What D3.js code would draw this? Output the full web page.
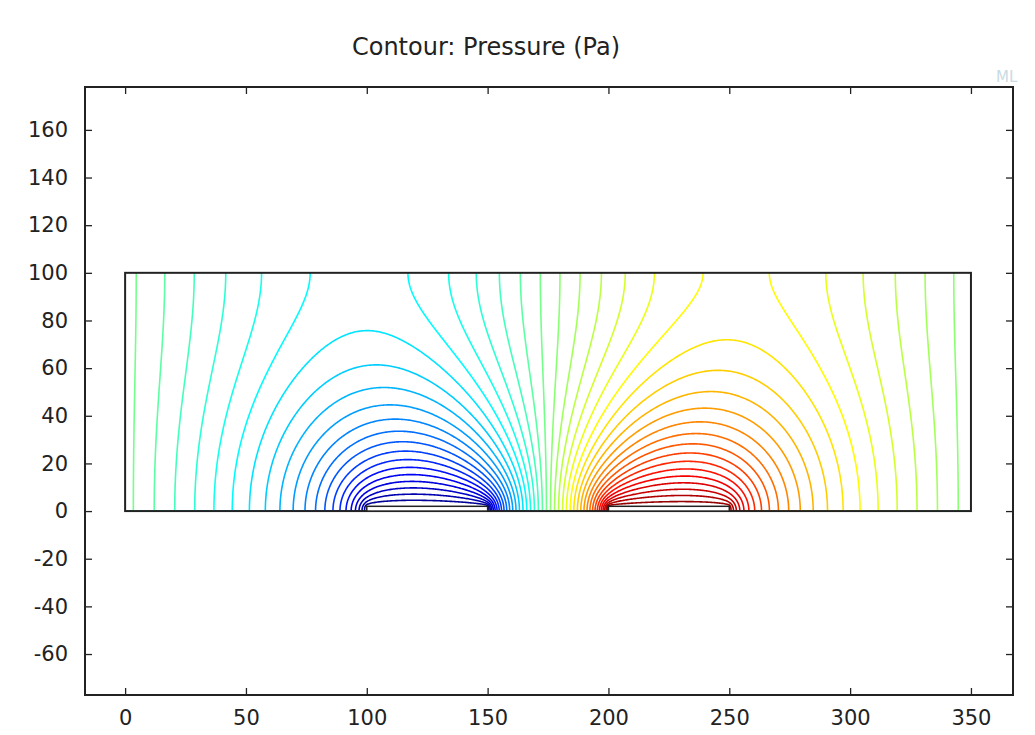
<!DOCTYPE html>
<html>
<head>
<meta charset="utf-8">
<script src="https://cdn.jsdelivr.net/npm/d3@7"></script>
<style>
body { margin: 0; background: #fff; }
text { font-family: "DejaVu Sans", sans-serif; fill: #222; }
</style>
</head>
<body>
<div id="chart"></div>
<script>
// axis ticks and visible extent (um)
var xTicks = [0, 50, 100, 150, 200, 250, 300, 350];
var yTicks = [-60, -40, -20, 0, 20, 40, 60, 80, 100, 120, 140, 160];
var xExtent = [-16.6, 367.4];
var yExtent = [-77.2, 178];

// channel and the two electrodes on its floor
var channelX = [0, 350];
var channelY = [0, 100];
var electrodeStart = [100, 200];
var electrodeEnd = [150, 250];
var electrodeTop = 2;
var electrodeValue = [-1, 1];
var wallValue = 0;

// contour levels spread over this range
var levelRange = [-1, 1.01];
var levelCount = 42;

var svgWidth = 1035, svgHeight = 735;
var margin = { top: 87, right: 22, bottom: 40, left: 85 };

var svg = d3.select("#chart").append("svg")
    .attr("width", svgWidth)
    .attr("height", svgHeight);

var x = d3.scaleLinear().domain(xExtent).range([margin.left, svgWidth - margin.right]);
var y = d3.scaleLinear().domain(yExtent).range([svgHeight - margin.bottom, margin.top]);

// solve laplace on the channel, coarse grid first then refine
function solve(h, prev, iters) {
    var nx = Math.round((channelX[1] - channelX[0]) / h) + 1;
    var ny = Math.round((channelY[1] - channelY[0]) / h) + 1;
    var p = new Float64Array(nx * ny);
    var fixed = new Uint8Array(nx * ny);
    for (var j = 0; j < ny; j++) {
        for (var i = 0; i < nx; i++) {
            var k = j * nx + i, xv = channelX[0] + i * h, yv = j * h;
            if (prev) {
                var fx = xv / prev.h, fy = yv / prev.h;
                var i0 = Math.min(Math.floor(fx), prev.nx - 2), j0 = Math.min(Math.floor(fy), prev.ny - 2);
                var tx = fx - i0, ty = fy - j0, q = prev.p, pn = prev.nx;
                p[k] = (1 - tx) * (1 - ty) * q[j0 * pn + i0] + tx * (1 - ty) * q[j0 * pn + i0 + 1]
                    + (1 - tx) * ty * q[(j0 + 1) * pn + i0] + tx * ty * q[(j0 + 1) * pn + i0 + 1];
            }
            if (i === 0 || i === nx - 1) { fixed[k] = 1; p[k] = wallValue; }
            for (var e = 0; e < electrodeStart.length; e++) {
                if (xv >= electrodeStart[e] - 1e-9 && xv <= electrodeEnd[e] + 1e-9 && yv <= electrodeTop + 1e-9) {
                    fixed[k] = 1; p[k] = electrodeValue[e];
                }
            }
        }
    }
    var w = 2 / (1 + Math.PI / ny);
    for (var it = 0; it < iters; it++) {
        for (var c = 0; c < 2; c++) {
            for (var j = 0; j < ny; j++) {
                var start = ((1 + j) % 2 === c) ? 1 : 2;
                for (var i = start; i < nx - 1; i += 2) {
                    var k = j * nx + i;
                    if (fixed[k]) continue;
                    var up = j < ny - 1 ? p[k + nx] : p[k - nx];
                    var dn = j > 0 ? p[k - nx] : p[k + nx];
                    p[k] += w * ((p[k - 1] + p[k + 1] + up + dn) / 4 - p[k]);
                }
            }
        }
    }
    return { h: h, nx: nx, ny: ny, p: p };
}

var coarse = solve(2, null, 1500);
var mid = solve(1, coarse, 800);
var field = solve(0.5, mid, 600);

var vmin = levelRange[0], vmax = levelRange[1];
var levels = d3.range(1, levelCount + 1).map(function(k) {
    return vmin + (vmax - vmin) * k / (levelCount + 1);
});

function jet(t) {
    var r = Math.max(0, Math.min(1, 1.5 - Math.abs(4 * t - 3)));
    var g = Math.max(0, Math.min(1, 1.5 - Math.abs(4 * t - 2)));
    var b = Math.max(0, Math.min(1, 1.5 - Math.abs(4 * t - 1)));
    return d3.rgb(r * 255, g * 255, b * 255).toString();
}

var contours = d3.contours().size([field.nx, field.ny]).thresholds(levels)(Array.from(field.p));

var toScreen = d3.geoTransform({
    point: function(gx, gy) {
        this.stream.point(x(channelX[0] + (gx - 0.5) * field.h), y((gy - 0.5) * field.h));
    }
});
var path = d3.geoPath(toScreen);

svg.append("clipPath").attr("id", "channel")
    .append("rect")
    .attr("x", x(channelX[0]))
    .attr("y", y(channelY[1]))
    .attr("width", x(channelX[1]) - x(channelX[0]))
    .attr("height", y(channelY[0]) - y(channelY[1]));

svg.append("g")
    .attr("clip-path", "url(#channel)")
    .selectAll("path")
    .data(contours)
    .enter()
    .append("path")
    .attr("d", path)
    .attr("fill", "none")
    .attr("stroke", function(d) { return jet((d.value - vmin) / (vmax - vmin)); })
    .attr("stroke-width", 1.6);

// channel outline and electrodes
svg.append("rect")
    .attr("x", x(channelX[0]))
    .attr("y", y(channelY[1]))
    .attr("width", x(channelX[1]) - x(channelX[0]))
    .attr("height", y(channelY[0]) - y(channelY[1]))
    .attr("fill", "none")
    .attr("stroke", "#222")
    .attr("stroke-width", 2);

svg.selectAll(".electrode")
    .data(electrodeStart)
    .enter()
    .append("rect")
    .attr("class", "electrode")
    .attr("x", function(d) { return x(d); })
    .attr("y", y(electrodeTop))
    .attr("width", function(d, i) { return x(electrodeEnd[i]) - x(d); })
    .attr("height", y(0) - y(electrodeTop))
    .attr("fill", "#fff")
    .attr("stroke", "#222")
    .attr("stroke-width", 1.5);

// frame with inward ticks on all four sides
var plotW = svgWidth - margin.left - margin.right;
var plotH = svgHeight - margin.bottom - margin.top;

function styleAxis(g) {
    g.select(".domain").remove();
    g.selectAll(".tick line").attr("stroke", "#222").attr("stroke-width", 1.3);
    g.selectAll(".tick text").attr("font-size", "21px").attr("fill", "#222");
}

var plain = function(d) { return String(d); };

svg.append("g")
    .attr("transform", "translate(0," + (svgHeight - margin.bottom) + ")")
    .call(d3.axisBottom(x).tickValues(xTicks).tickFormat(plain).tickSize(-7).tickPadding(15))
    .call(styleAxis);
svg.append("g")
    .attr("transform", "translate(0," + margin.top + ")")
    .call(d3.axisTop(x).tickValues(xTicks).tickSize(-7).tickFormat(""))
    .call(styleAxis);
svg.append("g")
    .attr("transform", "translate(" + margin.left + ",0)")
    .call(d3.axisLeft(y).tickValues(yTicks).tickFormat(plain).tickSize(-7).tickPadding(17))
    .call(styleAxis);
svg.append("g")
    .attr("transform", "translate(" + (svgWidth - margin.right) + ",0)")
    .call(d3.axisRight(y).tickValues(yTicks).tickSize(-7).tickFormat(""))
    .call(styleAxis);

svg.append("rect")
    .attr("x", margin.left)
    .attr("y", margin.top)
    .attr("width", plotW)
    .attr("height", plotH)
    .attr("fill", "none")
    .attr("stroke", "#222")
    .attr("stroke-width", 2);

svg.append("text")
    .attr("x", 486)
    .attr("y", 55)
    .attr("text-anchor", "middle")
    .attr("font-size", "24px")
    .text("Contour: Pressure (Pa)");

svg.append("text")
    .attr("x", 996)
    .attr("y", 82)
    .attr("font-size", "15px")
    .style("fill", "#c9dbe4")
    .text("ML");
</script>
</body>
</html>
